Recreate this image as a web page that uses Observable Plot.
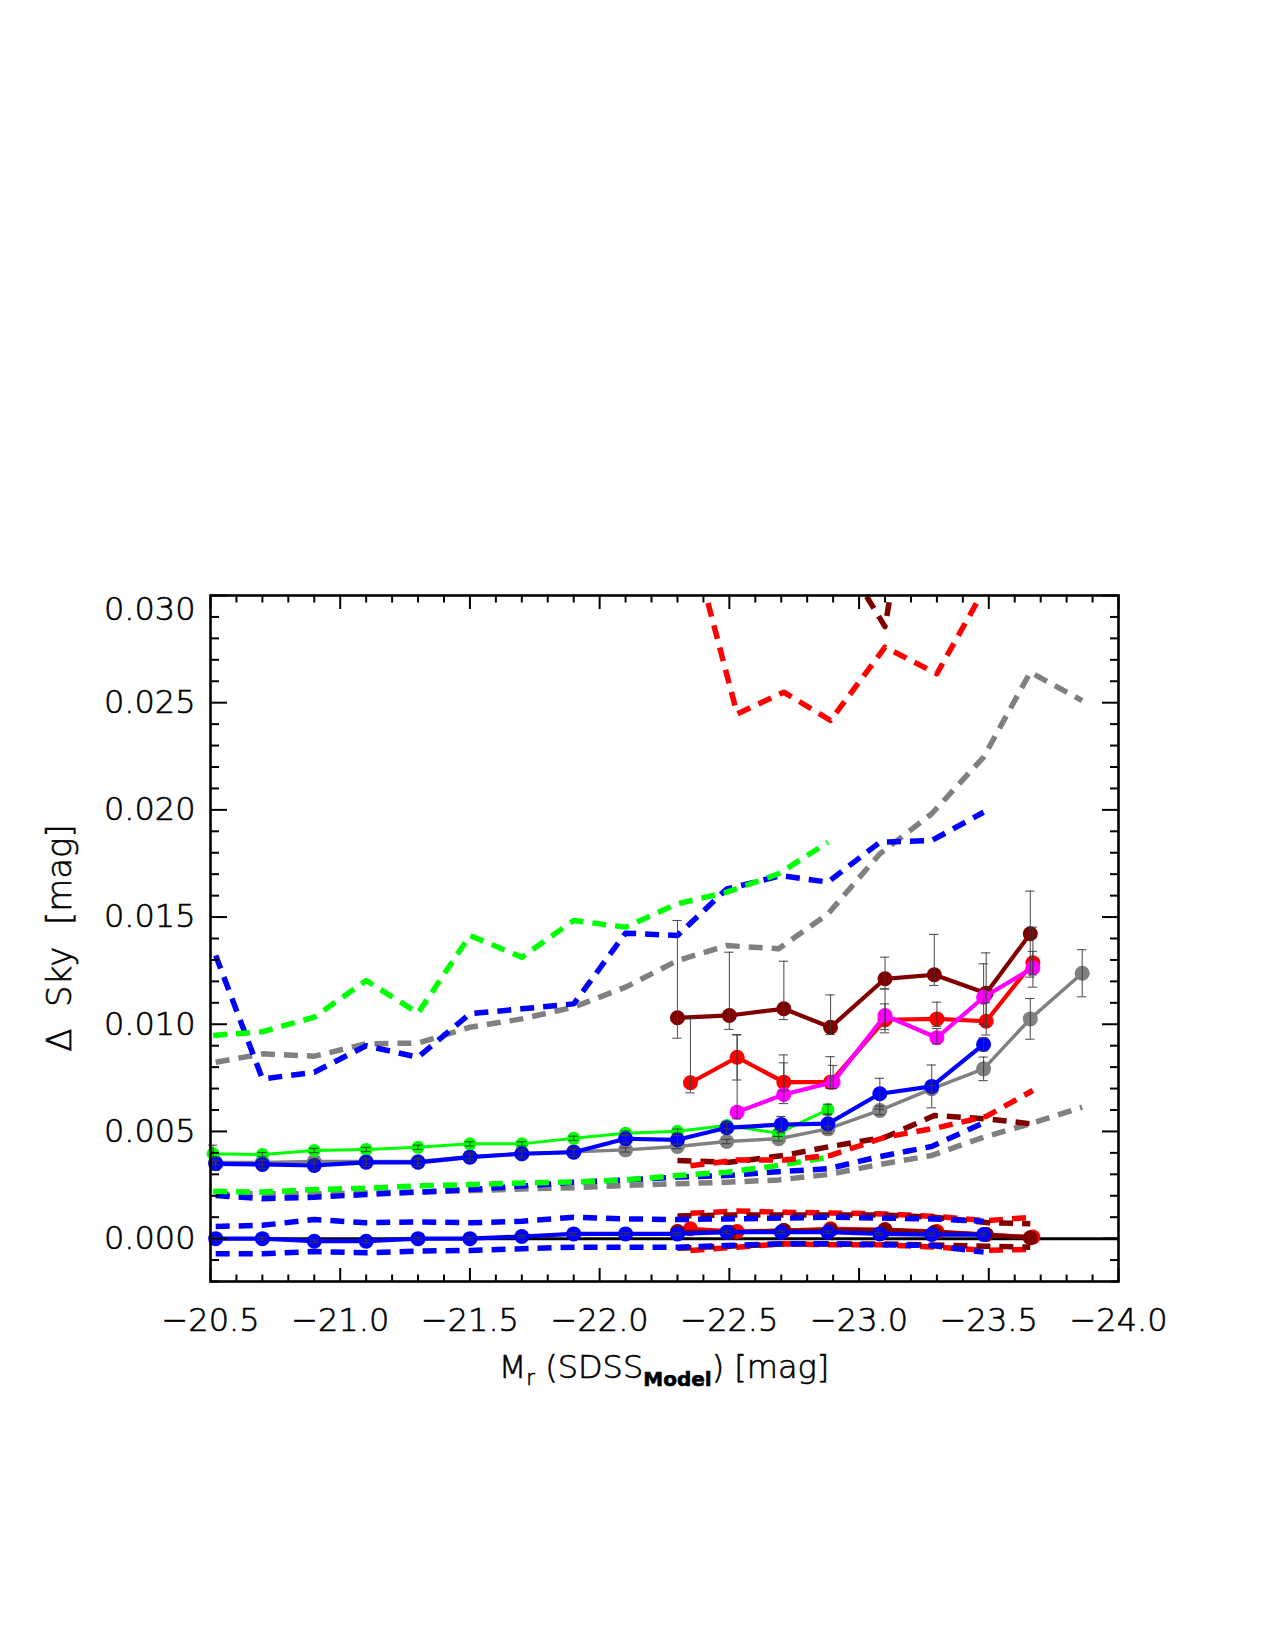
<!DOCTYPE html>
<html><head><meta charset="utf-8">
<script src="https://cdn.jsdelivr.net/npm/d3@7"></script>
<script src="https://cdn.jsdelivr.net/npm/@observablehq/plot@0.6"></script>
<style>
html,body{margin:0;padding:0;background:#fff;}
#chart svg{display:block;}
#chart svg text{stroke:#000;stroke-width:0.6px;fill:#000;}
</style>
</head><body><div id="chart"></div>
<script>
// ---- data (values in units of 1e-3 mag) ----
const xGreen = [-20.51,-20.70,-20.90,-21.10,-21.30,-21.50,-21.70,-21.90,-22.10,-22.30,-22.49,-22.69,-22.88];
const greenSolid = [3.96,3.92,4.11,4.16,4.26,4.42,4.42,4.68,4.92,5.01,5.28,4.92,6.02];
const greenErr = [0.40,0.10,0.10,0.10,0.10,0.10,0.10,0.10,0.10,0.10,0.15,0.15,0.25];
const greenDashHi = [9.48,9.65,10.33,12.04,10.52,14.14,13.13,14.84,14.53,15.62,16.16,17.02,18.49];
const greenDashMid = [2.21,2.17,2.29,2.35,2.46,2.52,2.60,2.64,2.74,2.94,3.10,3.41,3.80];

const xBlue = [-20.52,-20.70,-20.90,-21.10,-21.30,-21.50,-21.70,-21.90,-22.10,-22.30,-22.49,-22.70,-22.88,-23.08,-23.28,-23.48];
const blueSolid = [3.49,3.46,3.41,3.56,3.56,3.80,3.96,4.03,4.66,4.61,5.17,5.32,5.36,6.76,7.10,9.06];
const blueErr = [0.30,0.20,0.20,0.20,0.20,0.20,0.20,0.20,0.20,0.20,0.25,0.38,0.45,0.72,1.00,0.30];
const blueDashHi = [13.21,7.45,7.76,9.00,8.46,10.49,10.72,10.95,14.25,14.14,16.31,16.93,16.63,18.49,18.57,19.89];
const blueDashMid = [2.01,1.86,1.93,2.06,2.17,2.29,2.45,2.63,2.74,2.87,2.94,3.13,3.26,3.83,4.30,5.40];
const blueZero = [0.00,0.00,-0.12,-0.12,0.00,0.00,0.10,0.22,0.22,0.22,0.30,0.30,0.30,0.22,0.19,0.19];
const blueZeroErr = [0.06,0.06,0.06,0.06,0.06,0.06,0.06,0.06,0.06,0.06,0.06,0.06,0.06,0.06,0.06,0.06];
const blueDashZeroHi = [0.57,0.62,0.89,0.74,0.78,0.74,0.81,1.00,0.92,0.89,0.92,0.96,1.00,0.96,0.92,0.81];
const blueDashZeroLo = [-0.71,-0.71,-0.60,-0.66,-0.58,-0.55,-0.47,-0.40,-0.40,-0.40,-0.32,-0.24,-0.24,-0.29,-0.32,-0.63];

const xGray = [-20.52,-20.70,-20.90,-21.10,-21.30,-21.50,-21.70,-21.90,-22.10,-22.30,-22.49,-22.69,-22.88,-23.08,-23.28,-23.48,-23.66,-23.86];
const graySolid = [3.55,3.55,3.60,3.60,3.60,3.82,3.96,4.05,4.14,4.30,4.53,4.66,5.12,5.98,6.99,7.92,10.25,12.38];
const grayErr = [0.10,0.10,0.10,0.10,0.10,0.10,0.10,0.10,0.10,0.10,0.10,0.10,0.10,0.20,0.15,0.55,0.95,1.10];
const grayDashHi = [8.23,8.62,8.51,9.09,9.12,9.86,10.25,10.80,11.73,12.97,13.67,13.52,15.15,17.95,19.82,22.46,26.42,25.10];
const grayDashMid = [2.06,2.10,2.09,2.14,2.17,2.24,2.32,2.37,2.48,2.56,2.63,2.74,2.99,3.46,3.88,4.73,5.36,6.13];

const xMaroon = [-22.30,-22.50,-22.71,-22.89,-23.10,-23.29,-23.49,-23.66];
const maroonSolid = [10.30,10.41,10.72,9.86,12.12,12.31,11.45,14.22];
const maroonErrHi = [14.84,13.36,12.94,11.37,13.13,14.19,13.33,16.21];
const maroonErrLo = [9.35,9.76,10.22,9.52,11.65,11.81,9.91,12.20];
const maroonDashMid = [3.64,3.56,3.88,4.30,4.73,5.74,5.59,5.36];
const maroonZero = [0.33,0.30,0.38,0.40,0.40,0.30,0.19,0.04];
const maroonDashZeroHi = [1.05,1.10,1.10,1.10,1.10,1.00,0.75,0.69];
const maroonDashZeroLo = [-0.45,-0.35,-0.25,-0.25,-0.25,-0.30,-0.35,-0.40];
const xMaroonDashHi = [-22.89,-23.10,-23.29];
const maroonDashHi = [32.70,28.55,42.00];

const xRed = [-22.35,-22.53,-22.71,-22.89,-23.10,-23.30,-23.49,-23.67];
const redSolid = [7.27,8.46,7.30,7.30,10.21,10.25,10.14,12.87];
const redErrHi = [10.27,9.50,8.57,8.49,10.95,11.03,11.00,13.40];
const redErrLo = [6.80,7.40,6.90,7.00,9.75,9.90,9.50,12.30];
const redDashHi = [32.76,24.48,25.49,24.17,27.59,26.35,30.45,33.00];
const redDashMid = [3.40,3.67,3.67,3.88,4.73,5.17,5.70,6.91];
const redZero = [0.46,0.33,0.38,0.46,0.42,0.33,0.19,0.07];
const redDashZeroHi = [1.18,1.29,1.23,1.20,1.15,1.03,0.84,1.00];
const redDashZeroLo = [-0.55,-0.40,-0.24,-0.29,-0.29,-0.40,-0.55,-0.50];

const xMagenta = [-22.53,-22.71,-22.90,-23.10,-23.30,-23.48,-23.67];
const magentaSolid = [5.90,6.72,7.30,10.41,9.37,11.26,12.63];
const magentaErrHi = [9.52,8.20,8.08,11.65,9.80,12.82,14.53];
const magentaErrLo = [5.59,6.30,7.00,9.60,9.09,10.00,11.73];

const xTicksMajor = [-20.5,-21.0,-21.5,-22.0,-22.5,-23.0,-23.5,-24.0];
const yTicksMajor = [0.000,0.005,0.010,0.015,0.020,0.025,0.030];

const colors = {green:"#00ff00", blue:"#0000ff", gray:"#808080", maroon:"#800000", red:"#ff0000", magenta:"#ff00ff"};

// ---- build tables ----
const U = 1e-3;
const rows = (xs, ys) => xs.map((x, i) => ({x, y: ys[i] * U}));
const errRows = (xs, ys, lo, hi) => xs.map((x, i) => ({x, lo: lo[i] * U, hi: hi[i] * U}));
const symErr = (xs, ys, e) => xs.map((x, i) => ({x, lo: (ys[i] - e[i]) * U, hi: (ys[i] + e[i]) * U}));

const yMinor = d3.range(-2, 31).filter(d => d % 5 !== 0).map(d => d * U);
const xMinor = d3.range(205, 241).filter(d => d % 5 !== 0).map(d => -d / 10);

const dash = "14,9";
const dashed = (xs, ys, c) => Plot.line(rows(xs, ys), {x:"x", y:"y", stroke:c, strokeWidth:5.5, strokeDasharray:dash, strokeLinecap:"butt", clip:true});
const solid = (xs, ys, c, w, r) => [
  Plot.line(rows(xs, ys), {x:"x", y:"y", stroke:c, strokeWidth:w, clip:true}),
  Plot.dot(rows(xs, ys), {x:"x", y:"y", r:r, fill:c, stroke:"none"})
];
const errbars = (data) => [
  Plot.ruleX(data, {x:"x", y1:"lo", y2:"hi", stroke:"#3a3a3a", strokeWidth:1.1, strokeOpacity:0.85}),
  Plot.ruleY(data, {y:"lo", x1:d => d.x + 0.018, x2:d => d.x - 0.018, stroke:"#3a3a3a", strokeWidth:1.1, strokeOpacity:0.85}),
  Plot.ruleY(data, {y:"hi", x1:d => d.x + 0.018, x2:d => d.x - 0.018, stroke:"#3a3a3a", strokeWidth:1.1, strokeOpacity:0.85})
];

const FONT = "DejaVu Sans";
const FW = 300;
const W = 1275, H = 1650;
const mL = 210, mR = 157, mT = 595, mB = 369;

const plot = Plot.plot({
  width: W, height: H,
  marginLeft: mL, marginRight: mR, marginTop: mT, marginBottom: mB,
  style: {fontFamily: FONT, fontWeight: FW, background: "white", color: "black"},
  x: {domain: [-20.5, -24.0], axis: null},
  y: {domain: [-0.002, 0.030], axis: null},
  marks: [
    // upper dashed
    dashed(xGray, grayDashHi, colors.gray),
    dashed(xBlue, blueDashHi, colors.blue),
    dashed(xGreen, greenDashHi, colors.green),
    dashed(xMaroonDashHi, maroonDashHi, colors.maroon),
    dashed(xRed, redDashHi, colors.red),
    // middle dashed
    dashed(xGray, grayDashMid, colors.gray),
    dashed(xBlue, blueDashMid, colors.blue),
    dashed(xGreen, greenDashMid, colors.green),
    dashed(xMaroon, maroonDashMid, colors.maroon),
    dashed(xRed, redDashMid, colors.red),
    // near-zero dashed bands
    dashed(xRed, redDashZeroHi, colors.red),
    dashed(xRed, redDashZeroLo, colors.red),
    dashed(xMaroon, maroonDashZeroHi, colors.maroon),
    dashed(xMaroon, maroonDashZeroLo, colors.maroon),
    dashed(xBlue, blueDashZeroHi, colors.blue),
    dashed(xBlue, blueDashZeroLo, colors.blue),
    // zero line
    Plot.ruleY([0], {stroke:"black", strokeWidth:3}),
    // solid lines with markers
    solid(xGray, graySolid, colors.gray, 3.5, 7.5),
    solid(xGreen, greenSolid, colors.green, 3, 6.5),
    solid(xBlue, blueSolid, colors.blue, 4.2, 7.5),
    solid(xMaroon, maroonSolid, colors.maroon, 4.2, 7.5),
    solid(xRed, redSolid, colors.red, 4.2, 7.5),
    solid(xMagenta, magentaSolid, colors.magenta, 4.2, 7.5),
    solid(xRed, redZero, colors.red, 4.2, 7.5),
    solid(xMaroon, maroonZero, colors.maroon, 4.2, 7.5),
    solid(xBlue, blueZero, colors.blue, 4.2, 7.5),
    // error bars
    errbars(symErr(xGreen, greenSolid, greenErr)),
    errbars(symErr(xGray, graySolid, grayErr)),
    errbars(symErr(xBlue, blueSolid, blueErr)),
    errbars(symErr(xBlue, blueZero, blueZeroErr)),
    errbars(errRows(xMaroon, maroonSolid, maroonErrLo, maroonErrHi)),
    errbars(errRows(xRed, redSolid, redErrLo, redErrHi)),
    errbars(errRows(xMagenta, magentaSolid, magentaErrLo, magentaErrHi)),
    // frame and ticks
    Plot.frame({stroke:"black", strokeWidth:2.6}),
    Plot.axisY(yTicksMajor, {anchor:"left", tickSize:-17, strokeWidth:2, text:null, label:null}),
    Plot.axisY(yMinor, {anchor:"left", tickSize:-9, strokeWidth:2, text:null, label:null}),
    Plot.axisY(yTicksMajor, {anchor:"right", tickSize:-17, strokeWidth:2, text:null, label:null}),
    Plot.axisY(yMinor, {anchor:"right", tickSize:-9, strokeWidth:2, text:null, label:null}),
    Plot.axisX(xTicksMajor, {anchor:"bottom", tickSize:-13, strokeWidth:2, text:null, label:null}),
    Plot.axisX(xMinor, {anchor:"bottom", tickSize:-6.5, strokeWidth:2, text:null, label:null}),
    Plot.axisX(xTicksMajor, {anchor:"top", tickSize:-13, strokeWidth:2, text:null, label:null}),
    Plot.axisX(xMinor, {anchor:"top", tickSize:-6.5, strokeWidth:2, text:null, label:null}),
    // tick labels
    Plot.axisY(yTicksMajor.filter(d => d < 0.0295), {anchor:"left", tickSize:0, tickPadding:15, tickFormat:d3.format(".3f"), fontSize:32, fontWeight:FW, label:null}),
    Plot.axisY(yTicksMajor.filter(d => d > 0.0295), {anchor:"left", tickSize:0, tickPadding:15, tickFormat:d3.format(".3f"), fontSize:32, fontWeight:FW, label:null, dy:14}),
    Plot.axisX(xTicksMajor, {anchor:"bottom", tickSize:0, tickPadding:27, tickFormat:d3.format(".1f"), fontSize:32, fontWeight:FW, label:null})
  ]
});

document.getElementById("chart").appendChild(plot);

// axis titles as real text
const svg = d3.select(plot);
const cx = mL + (W - mL - mR) / 2;
const cy = mT + (H - mT - mB) / 2;
const xt = svg.append("text")
  .attr("x", cx).attr("y", 1378)
  .attr("text-anchor", "middle")
  .attr("font-family", FONT).attr("font-weight", FW).attr("font-size", 32).attr("fill", "black");
xt.append("tspan").text("M");
xt.append("tspan").attr("font-size", 21).attr("dy", 7).text("r");
xt.append("tspan").attr("dy", -7).text(" (SDSS");
xt.append("tspan").attr("font-size", 20).attr("font-weight", "bold").attr("dy", 8).text("Model");
xt.append("tspan").attr("dy", -8).text(") [mag]");

svg.append("text")
  .attr("transform", `translate(71,${cy}) rotate(-90)`)
  .attr("text-anchor", "middle")
  .attr("font-family", FONT).attr("font-weight", FW).attr("font-size", 34).attr("fill", "black")
  .attr("xml:space", "preserve")
  .text("Δ  Sky  [mag]");
</script>
</body></html>
